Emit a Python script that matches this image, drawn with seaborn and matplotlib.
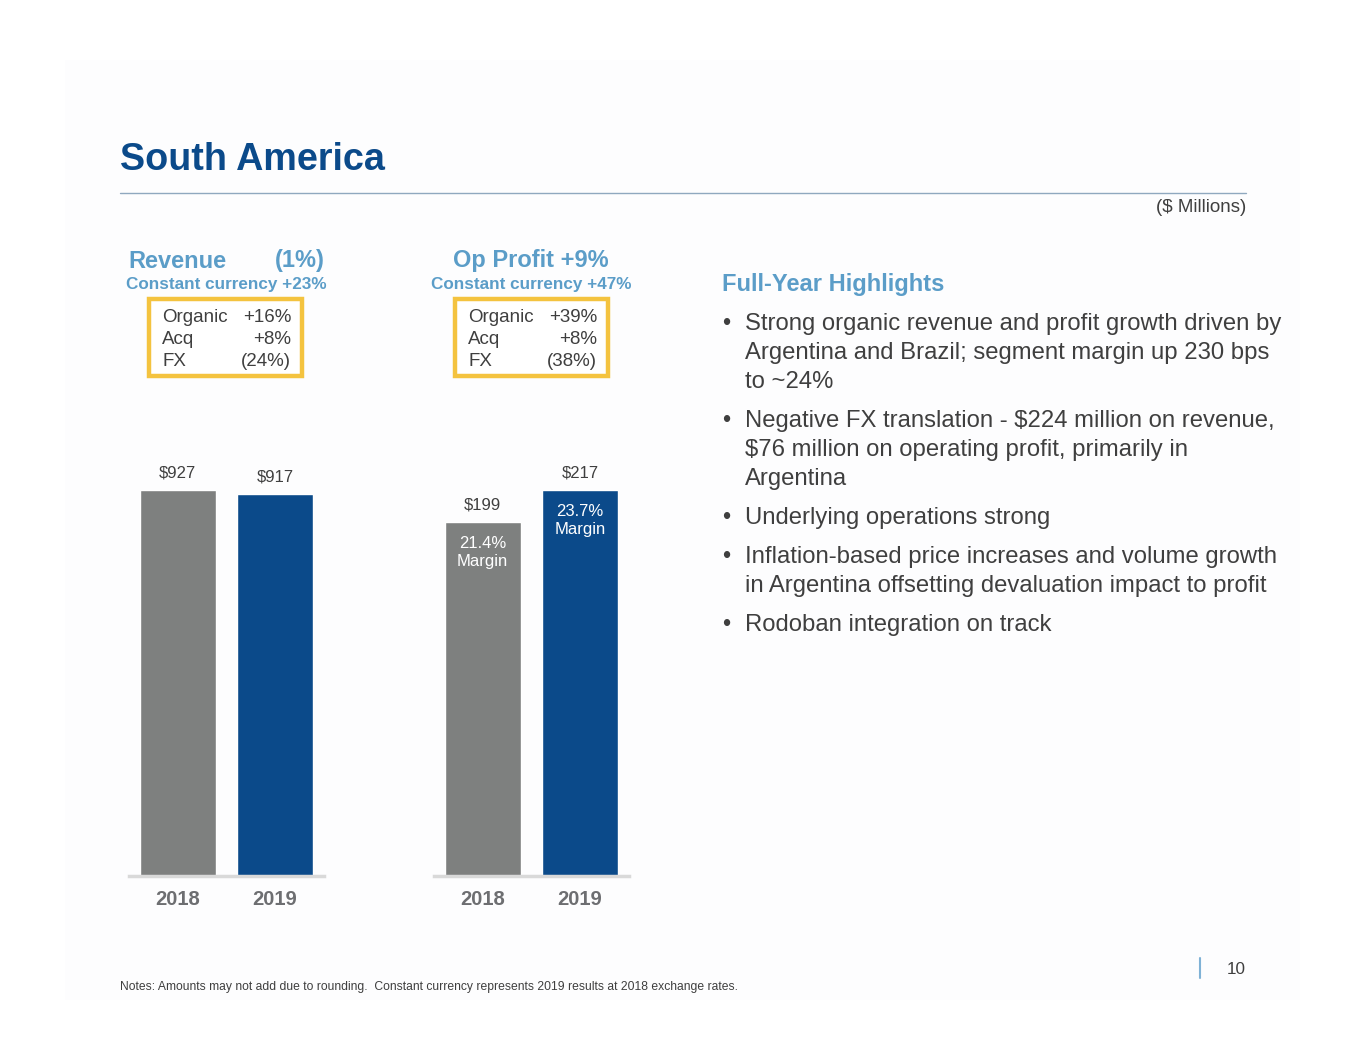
import matplotlib
matplotlib.use("Agg")
import matplotlib.pyplot as plt
import matplotlib.patches as patches
import seaborn as sns

# datos
years = ["2018", "2019"]
revenue = [927, 917]
op_profit = [199, 217]
margins = ["21.4%", "23.7%"]
revenue_bridge = [("Organic", "+16%"), ("Acq", "+8%"), ("FX", "(24%)")]
profit_bridge = [("Organic", "+39%"), ("Acq", "+8%"), ("FX", "(38%)")]
bullets = [
    ["Strong organic revenue and profit growth driven by",
     "Argentina and Brazil; segment margin up 230 bps",
     "to ~24%"],
    ["Negative FX translation - $224 million on revenue,",
     "$76 million on operating profit, primarily in",
     "Argentina"],
    ["Underlying operations strong"],
    ["Inflation-based price increases and volume growth",
     "in Argentina offsetting devaluation impact to profit"],
    ["Rodoban integration on track"],
]

W, H = 1365, 1055
GRAY = "#7e807f"
BLUE = "#0b4a8a"
LIGHT_BLUE = "#5b9dc8"
TEXT = "#3f3f3f"
YELLOW = "#f4c33f"

sns.set_theme(style="white")
plt.rcParams["font.family"] = ["Liberation Sans", "DejaVu Sans"]

fig = plt.figure(figsize=(W / 100, H / 100), dpi=100)
fig.patch.set_facecolor("white")


def fx(x):
    return x / W


def fy(y):
    return 1 - y / H


def txt(x, y, s, **kw):
    # pequeño ajuste vertical para que coincida con el centro visual
    kw.setdefault("va", "center")
    kw.setdefault("color", TEXT)
    fig.text(fx(x), fy(y + 2), s, **kw)


# panel de fondo muy tenue
fig.add_artist(patches.Rectangle((fx(65), fy(1000)), fx(1300) - fx(65), fy(60) - fy(1000),
                                 transform=fig.transFigure, facecolor="#fdfdfe",
                                 edgecolor="none", zorder=0))

# titulo y linea
txt(120, 158, "South America", fontsize=27.2, fontweight="bold", color=BLUE)
fig.add_artist(plt.Line2D([fx(120), fx(1246)], [fy(193), fy(193)], color="#8fa8bf", lw=1.0))
txt(1246, 206, "($ Millions)", fontsize=13.5, ha="right")


def bar_panel(x_left, values, label_inside=None):
    base = 876
    top_px = 386  # altura del valor maximo
    h_px = top_px * 1.25
    width_px = 194.5
    ax = fig.add_axes([fx(x_left), fy(base), width_px / W, h_px / H])
    ax.set_facecolor("none")
    sns.barplot(x=years, y=values, hue=years, palette=[GRAY, BLUE], legend=False,
                width=0.78, saturation=1, ax=ax)
    ax.set_xlim(-0.5, 1.5)
    ax.set_ylim(0, max(values) * 1.25)
    for s in ["top", "left", "right"]:
        ax.spines[s].set_visible(False)
    ax.spines["bottom"].set_color("#d9d9d9")
    ax.spines["bottom"].set_linewidth(2.5)
    ax.set_yticks([])
    ax.set_xlabel("")
    ax.set_ylabel("")
    ax.tick_params(axis="x", length=0, pad=10, labelsize=14.5, labelcolor="#6d6e71")
    for t in ax.get_xticklabels():
        t.set_fontweight("bold")
    for i, v in enumerate(values):
        ax.annotate(f"${v}", (i, v), xytext=(0, 12.5), textcoords="offset points",
                    ha="center", va="center", fontsize=12, color=TEXT)
        if label_inside:
            ax.annotate(f"{label_inside[i]}\nMargin", (i, v), xytext=(0, -22),
                        textcoords="offset points", ha="center", va="center",
                        fontsize=12, color="white", linespacing=1.3)
    return ax


def bridge_box(x0, x1, rows):
    fig.add_artist(patches.Rectangle((fx(x0), fy(376)), fx(x1) - fx(x0), fy(299) - fy(376),
                                     transform=fig.transFigure, facecolor="white",
                                     edgecolor=YELLOW, lw=3.2, zorder=2))
    for k, (name, val) in enumerate(rows):
        y = 316 + k * 22
        txt(x0 + 13, y, name, fontsize=13.5, zorder=3)
        txt(x1 - 11, y, val, fontsize=13.5, ha="right", zorder=3)


# revenue
txt(128, 259, "Revenue", fontsize=17, fontweight="bold", color=LIGHT_BLUE)
txt(325, 259, "(1%)", fontsize=17, fontweight="bold", color=LIGHT_BLUE, ha="right")
txt(226, 283, "Constant currency +23%", fontsize=12.3, fontweight="bold",
    color=LIGHT_BLUE, ha="center")
bridge_box(149, 302, revenue_bridge)
bar_panel(129, revenue)

# op profit
txt(531, 259, "Op Profit +9%", fontsize=17, fontweight="bold", color=LIGHT_BLUE, ha="center")
txt(531, 283, "Constant currency +47%", fontsize=12.3, fontweight="bold",
    color=LIGHT_BLUE, ha="center")
bridge_box(455, 608, profit_bridge)
bar_panel(434, op_profit, label_inside=margins)

# highlights
txt(722, 282, "Full-Year Highlights", fontsize=17, fontweight="bold", color=LIGHT_BLUE)
y = 322
for item in bullets:
    txt(722, y, "\u2022", fontsize=17)
    for line in item:
        txt(745, y, line, fontsize=17.2)
        y += 29
    y += 10

# pie de pagina
txt(120, 985, "Notes: Amounts may not add due to rounding.  Constant currency represents "
    "2019 results at 2018 exchange rates.", fontsize=8.7)
fig.add_artist(plt.Line2D([fx(1200), fx(1200)], [fy(958), fy(978)], color="#7fb2d6", lw=1.5))
txt(1246, 968, "10", fontsize=12.3, ha="right")

fig.savefig("out.png", dpi=100, facecolor=fig.get_facecolor())
